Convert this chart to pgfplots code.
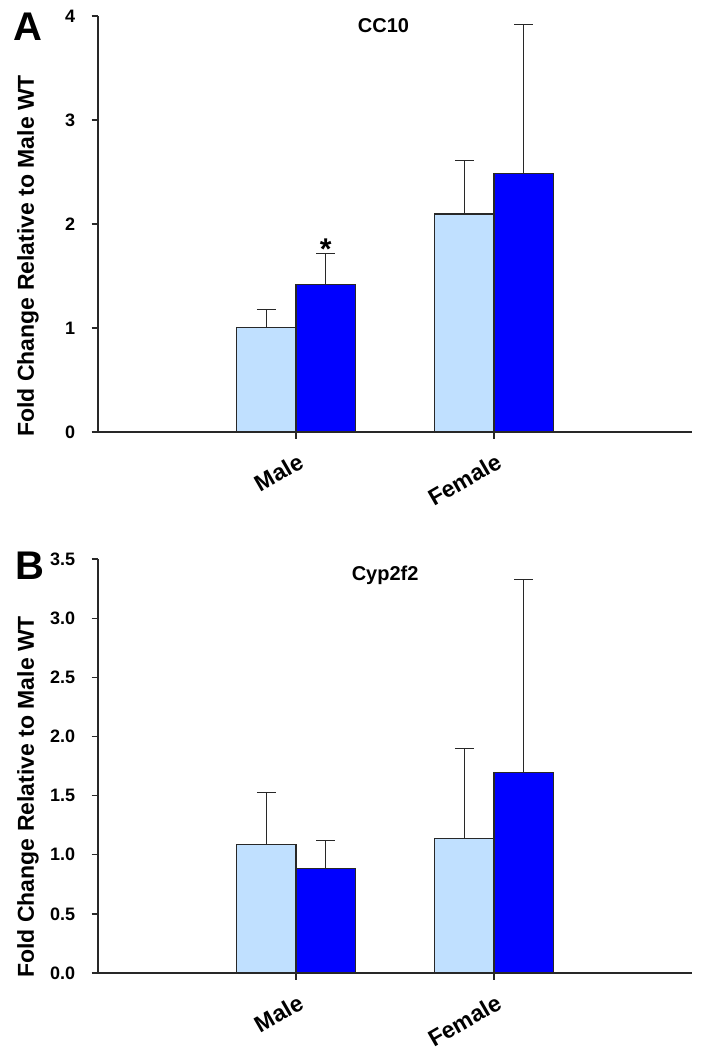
\documentclass[border=0pt]{standalone}
\usepackage{fontspec}
\setmainfont{Liberation Sans}
\usepackage{pgfplots}
\pgfplotsset{compat=1.18}
\definecolor{lightbar}{RGB}{192,224,255}
\definecolor{darkbar}{RGB}{0,0,255}
\definecolor{axisgray}{RGB}{40,40,40}
\pgfplotsset{
  panel/.style={
    scale only axis, width=297pt,
    xmin=-1, xmax=2, ymin=0,
    axis lines=left, axis line style={-, line width=0.65pt, axisgray},
    tick align=outside, major tick length=3.25pt,
    tick style={line width=0.65pt, axisgray},
    xtick={0,1}, xticklabels={Male,Female},
    xticklabel style={yshift=-6.7pt, xshift=0.5pt, rotate=30, anchor=north east, inner sep=0pt,
      font=\fontsize{11.5}{13}\selectfont\bfseries},
    yticklabel style={anchor=east, inner sep=0pt, xshift=-8pt,
      font=\fontsize{9}{10}\selectfont\bfseries},
    /pgf/number format/assume math mode=true,
    clip=false,
    at={(0,0)}, anchor=south west,
  },
  barplot/.style={ybar, bar width=0.3, bar shift=0pt, draw=axisgray, line width=0.6pt,
    error bars/y dir=plus, error bars/y explicit,
    error bars/error bar style={line width=0.6pt, axisgray, solid},
    error bars/error mark options={line width=0.6pt, axisgray, mark size=4.75pt, rotate=90}},
}
\begin{document}
\begin{tikzpicture}
\begin{axis}[panel, height=208pt, ymax=4, ytick={0,1,2,3,4}]
\addplot[barplot, fill=lightbar] coordinates {(-0.15,1.003) +- (0,0.176) (0.85,2.096) +- (0,0.514)};
\addplot[barplot, fill=darkbar] coordinates {(0.15,1.416) +- (0,0.302) (1.15,2.484) +- (0,1.436)};
\node[anchor=base, inner sep=0pt, font=\fontsize{10}{12}\selectfont\bfseries] at (axis cs:0.442,3.837) {CC10};
\node[anchor=north, inner sep=0pt, font=\fontsize{15}{15}\selectfont\bfseries] at (axis cs:0.15,1.865) {*};
\end{axis}
\begin{axis}[panel, at={(0,-270.5pt)}, height=207pt, ymax=3.5, ytick={0,0.5,...,3.5},
  yticklabel style={/pgf/number format/.cd, fixed, fixed zerofill, precision=1}]
\addplot[barplot, fill=lightbar] coordinates {(-0.15,1.089) +- (0,0.438) (0.85,1.139) +- (0,0.76)};
\addplot[barplot, fill=darkbar] coordinates {(0.15,0.886) +- (0,0.234) (1.15,1.697) +- (0,1.633)};
\node[anchor=base, inner sep=0pt, font=\fontsize{10}{12}\selectfont\bfseries] at (axis cs:0.45,3.32) {Cyp2f2};
\end{axis}
\node[anchor=north west, inner sep=0pt, font=\fontsize{20}{22}\selectfont\bfseries] at (-42.6pt,209.5pt) {A};
\node[anchor=north west, inner sep=0pt, font=\fontsize{20}{22}\selectfont\bfseries] at (-41.5pt,-59.85pt) {B};
\node[rotate=90, anchor=base west, inner sep=0pt, font=\fontsize{11.5}{13}\selectfont\bfseries] at (-32pt,-2.5pt) {Fold Change Relative to Male WT};
\node[rotate=90, anchor=base west, inner sep=0pt, font=\fontsize{11.5}{13}\selectfont\bfseries] at (-32pt,-273pt) {Fold Change Relative to Male WT};
\pgfresetboundingbox
\path[use as bounding box] (-49pt,-308.5pt) rectangle (303.5pt,216pt);
\end{tikzpicture}
\end{document}
